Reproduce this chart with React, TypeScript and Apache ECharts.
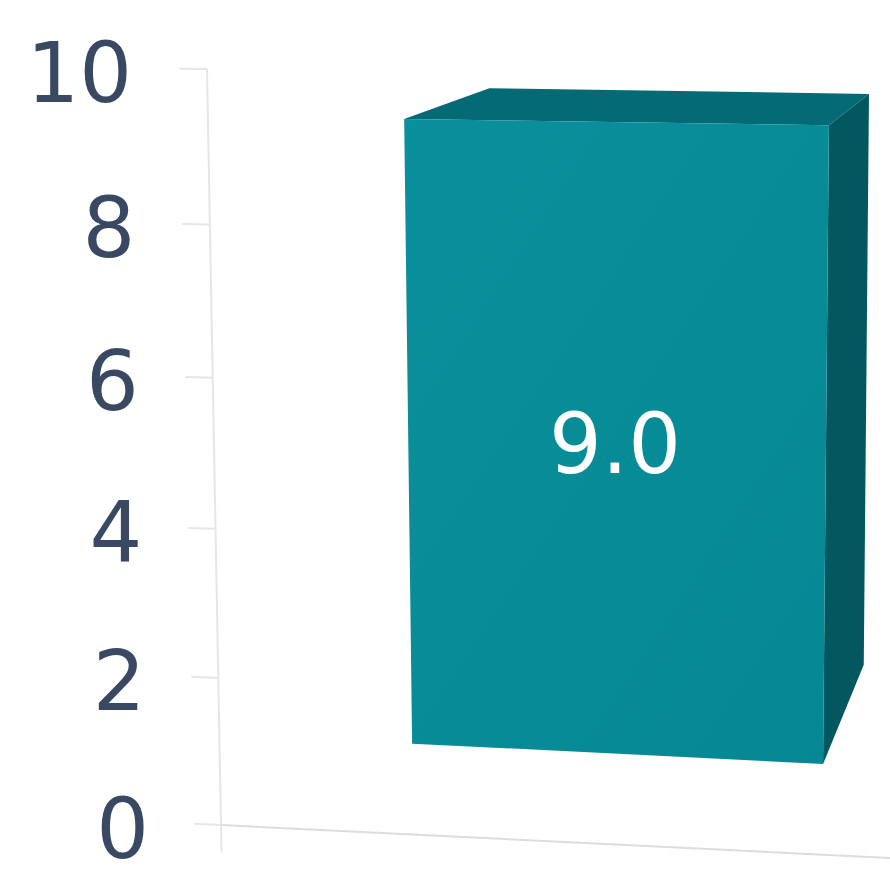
import React, { useEffect, useRef } from "react";
import * as echarts from "echarts";

// ---- data ----
const categories = ["Series 1"];
const values = [9.0];
const yTicks = [0, 2, 4, 6, 8, 10];
const yMin = 0;
const yMax = 10;
const yInterval = 2;

const FONT = "DejaVu Sans";
const LABEL_COLOR = "#3a4963";
const PERSP_C = 0.035; // vertical perspective of the front axis wall
const GRID_H = 756;

const persp = (v: number) => (v * (1 + PERSP_C)) / (1 + PERSP_C * v);

function makeProj(cs: any) {
  const L = cs.x, T = cs.y, W = cs.width, H = cs.height;
  const tl = [L - 7, T];
  const tr = [L + W + 11, T + 8];
  const bl = [L + 7, T + H];
  const br = [L + W, T + H + 33];
  const vp = [L + W + 316, T - 239];
  const flat = (px: number, py: number) => {
    const u = (px - L) / W;
    const v = (py - T) / H;
    return [
      (1 - u) * (1 - v) * tl[0] + u * (1 - v) * tr[0] + (1 - u) * v * bl[0] + u * v * br[0],
      (1 - u) * (1 - v) * tl[1] + u * (1 - v) * tr[1] + (1 - u) * v * bl[1] + u * v * br[1],
    ];
  };
  const depth = (p: number[], k: number) => [vp[0] + k * (p[0] - vp[0]), vp[1] + k * (p[1] - vp[1])];
  return { flat, depth, L, T, W, H };
}

export default function App() {
  const ref = useRef<HTMLDivElement>(null);
  useEffect(() => {
    const chart = echarts.init(ref.current!, null, { renderer: "svg" });

    const rich: any = {};
    yTicks.forEach((t) => {
      const v = (yMax - t) / (yMax - yMin);
      const d = 4 + GRID_H * (persp(v) - v);
      rich["t" + t] = {
        fontSize: 83,
        fontFamily: FONT,
        color: LABEL_COLOR,
        padding: [2 * d, 1.7 * t, 0, 0],
      };
    });

    const barData = values.map((v, i) => [i, v]);

    chart.setOption({
      animation: false,
      backgroundColor: "#ffffff",
      grid: { left: 214, right: 0, top: 69, bottom: 53, containLabel: false },
      xAxis: {
        type: "category",
        data: categories,
        axisLine: { show: false },
        axisTick: { show: false },
        axisLabel: { show: false },
        splitLine: { show: false },
      },
      yAxis: {
        type: "value",
        min: yMin,
        max: yMax,
        interval: yInterval,
        axisLine: { show: false },
        axisTick: { show: false },
        splitLine: { show: false },
        axisLabel: {
          margin: 65,
          formatter: (v: number) => `{t${v}|${v}}`,
          rich,
        },
      },
      series: [
        {
          type: "custom",
          z: 1,
          silent: true,
          data: [[0]],
          renderItem: (params: any, api: any) => {
            const P = makeProj(params.coordSys);
            const stroke = "#e6e6e6";
            const children: any[] = [];
            const a0 = P.flat(P.L, P.T);
            const a1 = P.flat(P.L, P.T + P.H * 1.036);
            children.push({
              type: "line",
              shape: { x1: a0[0], y1: a0[1], x2: a1[0], y2: a1[1] },
              style: { stroke, lineWidth: 2 },
            });
            const x0 = P.flat(P.L, P.T + P.H);
            const x1 = P.flat(P.L + P.W, P.T + P.H);
            children.push({
              type: "line",
              shape: { x1: x0[0], y1: x0[1], x2: x1[0], y2: x1[1] },
              style: { stroke: "#dddddd", lineWidth: 2 },
            });
            yTicks.forEach((t) => {
              const c = api.coord([0, t]);
              const v = (c[1] - P.T) / P.H;
              const y = P.T + P.H * persp(v);
              const p0 = P.flat(P.L - 27, y);
              const p1 = P.flat(P.L, y);
              children.push({
                type: "line",
                shape: { x1: p0[0], y1: p0[1], x2: p1[0], y2: p1[1] },
                style: { stroke, lineWidth: 2 },
              });
            });
            return { type: "group", children };
          },
        },
        {
          type: "custom",
          z: 2,
          data: barData,
          renderItem: (params: any, api: any) => {
            const P = makeProj(params.coordSys);
            const cat = api.value(0);
            const val = api.value(1);
            const base = api.coord([cat, 0]);
            const top = api.coord([cat, val]);
            const bw = api.size([1, 0])[0];
            const cx = base[0] + 0.009 * bw;
            const hw = 0.3364 * bw;
            const xl = cx - hw;
            const xr = cx + hw;
            const k1 = 0.913;
            const k2 = 0.816;
            const f = (x: number, y: number, k: number) => P.depth(P.flat(x, y), k);
            const F = [f(xl, top[1], k1), f(xr, top[1], k1), f(xr, base[1], k1), f(xl, base[1], k1)];
            const B = [f(xl, top[1], k2), f(xr, top[1], k2), f(xr, base[1], k2)];
            const lx = (F[0][0] + F[1][0] + F[2][0] + F[3][0]) / 4;
            const ly = (F[0][1] + F[1][1] + F[2][1] + F[3][1]) / 4;
            return {
              type: "group",
              children: [
                {
                  type: "polygon",
                  shape: { points: [F[1], B[1], B[2], F[2]] },
                  style: { fill: "#03575f" },
                },
                {
                  type: "polygon",
                  shape: { points: [F[0], B[0], B[1], F[1]] },
                  style: { fill: "#046a74" },
                },
                {
                  type: "polygon",
                  shape: { points: F },
                  style: {
                    fill: new echarts.graphic.LinearGradient(0, 0, 1, 1, [
                      { offset: 0, color: "#0a909c" },
                      { offset: 1, color: "#058893" },
                    ]),
                  },
                },
                {
                  type: "text",
                  x: lx - 2,
                  y: ly + 7,
                  style: {
                    text: Number(val).toFixed(1),
                    fill: "#ffffff",
                    fontSize: 83,
                    fontFamily: FONT,
                    align: "center",
                    verticalAlign: "middle",
                  },
                },
              ],
            };
          },
        },
      ],
    });
    return () => chart.dispose();
  }, []);

  return (
    <div
      ref={ref}
      style={{ position: "absolute", left: 0, top: 0, width: 890, height: 878, background: "#fff" }}
    />
  );
}
